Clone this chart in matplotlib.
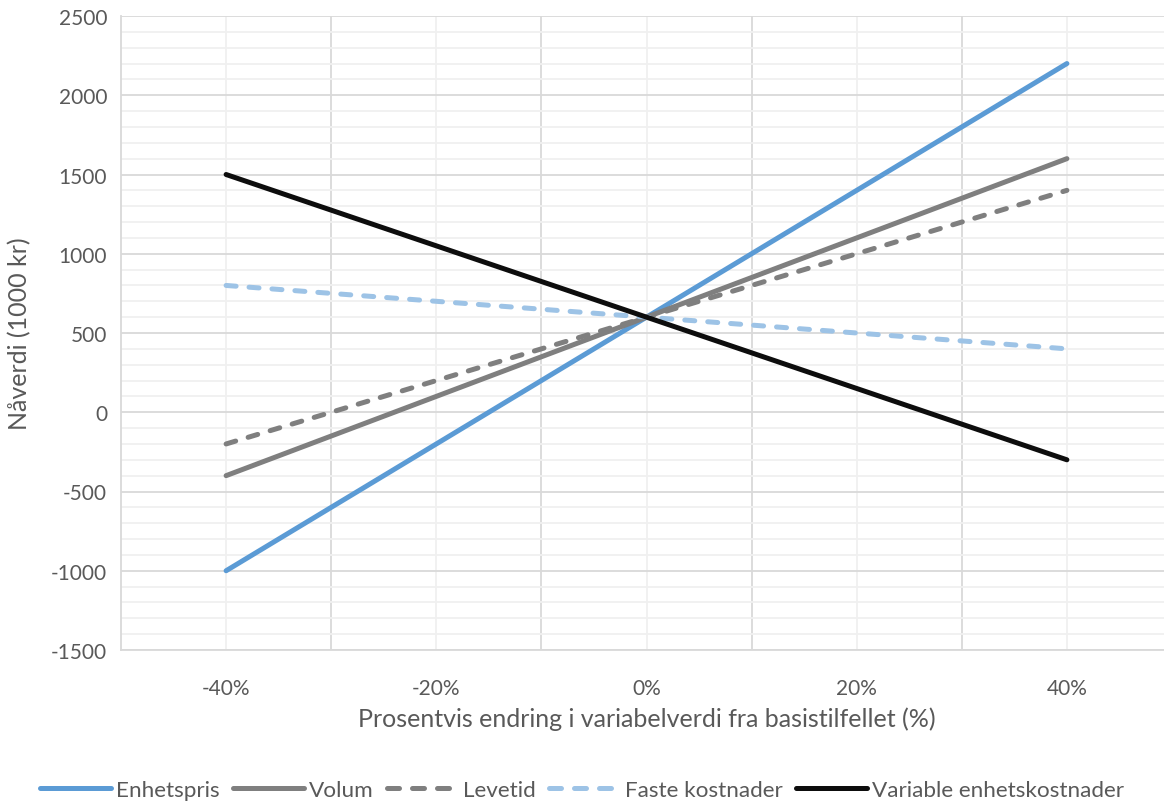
import matplotlib
matplotlib.use("Agg")
from matplotlib import pyplot as plt
from matplotlib.ticker import FixedLocator, FuncFormatter

plt.rcParams['font.family'] = ['Lato', 'DejaVu Sans']

endring = [-40, -20, 0, 20, 40]
enhetspris = [-1000, -200, 600, 1400, 2200]
volum = [-400, 100, 600, 1100, 1600]
levetid = [-200, 200, 600, 1000, 1400]
faste_kostnader = [800, 700, 600, 500, 400]
variable_kostnader = [1500, 1050, 600, 150, -300]

serier = [
    ("Enhetspris", enhetspris, '#5B9BD5', '-'),
    ("Volum", volum, '#7F7F7F', '-'),
    ("Levetid", levetid, '#7F7F7F', (0, (2.0, 2.6))),
    ("Faste kostnader", faste_kostnader, '#9DC3E6', (0, (2.0, 2.6))),
    ("Variable enhetskostnader", variable_kostnader, '#0D0D0D', '-'),
]
tekstfarge = '#595959'

fig = plt.figure(figsize=(11.64, 8.03), dpi=100)
ax = fig.add_axes([121 / 1164, 1 - 651 / 803, 1051 / 1164, 634 / 803])

for navn, verdier, farge, stil in serier:
    ax.plot(endring, verdier, color=farge, linestyle=stil, linewidth=3.6,
            solid_capstyle='round', dash_capstyle='round', label=navn, zorder=3)

ax.set_xlim(-50, 50)
ax.set_ylim(-1500, 2500)

# gridlines: major (darker) and minor (lighter)
ax.xaxis.set_major_locator(FixedLocator([-30, -10, 10, 30]))
ax.xaxis.set_minor_locator(FixedLocator(endring))
ax.xaxis.set_major_formatter(FuncFormatter(lambda v, p: ""))
ax.xaxis.set_minor_formatter(FuncFormatter(lambda v, p: f"{v:.0f}%"))
ax.yaxis.set_major_locator(FixedLocator(range(-1500, 2501, 500)))
ax.yaxis.set_minor_locator(FixedLocator([v for v in range(-1500, 2501, 100) if v % 500]))
ax.yaxis.set_major_formatter(FuncFormatter(lambda v, p: f"{v:.0f}"))
ax.grid(which='major', color='#D9D9D9', linewidth=1.3, zorder=0)
ax.grid(which='minor', color='#F0F0F0', linewidth=1.3, zorder=0)
ax.set_axisbelow(True)

ax.tick_params(which='both', length=0, colors=tekstfarge, labelsize=15)
ax.tick_params(axis='x', which='minor', pad=20)
ax.tick_params(axis='y', pad=10)

for side in ['top', 'right']:
    ax.spines[side].set_visible(False)
ax.spines['left'].set_color('#D9D9D9')
ax.spines['bottom'].set_color('#D9D9D9')
ax.spines['left'].set_linewidth(1.3)
ax.spines['bottom'].set_linewidth(1.3)

ax.set_xlabel("Prosentvis endring i variabelverdi fra basistilfellet (%)",
              fontsize=18, color=tekstfarge, labelpad=6)
ax.set_ylabel("Nåverdi (1000 kr)", fontsize=18, color=tekstfarge)
ax.yaxis.set_label_coords(-90 / 1051, 0.5)

leg = fig.legend(loc='center', bbox_to_anchor=(0.5, 1 - 791 / 803), ncol=5, frameon=False,
                 fontsize=16.2, labelcolor=tekstfarge, handlelength=3.15,
                 handletextpad=0.22, columnspacing=0.6)
# three whole dashes in the dashed legend handles
for linje in leg.get_lines():
    if linje.get_linestyle() != '-':
        linje.set_dashes((2.4, 2.6))

fig.savefig("out.png", dpi=100)
